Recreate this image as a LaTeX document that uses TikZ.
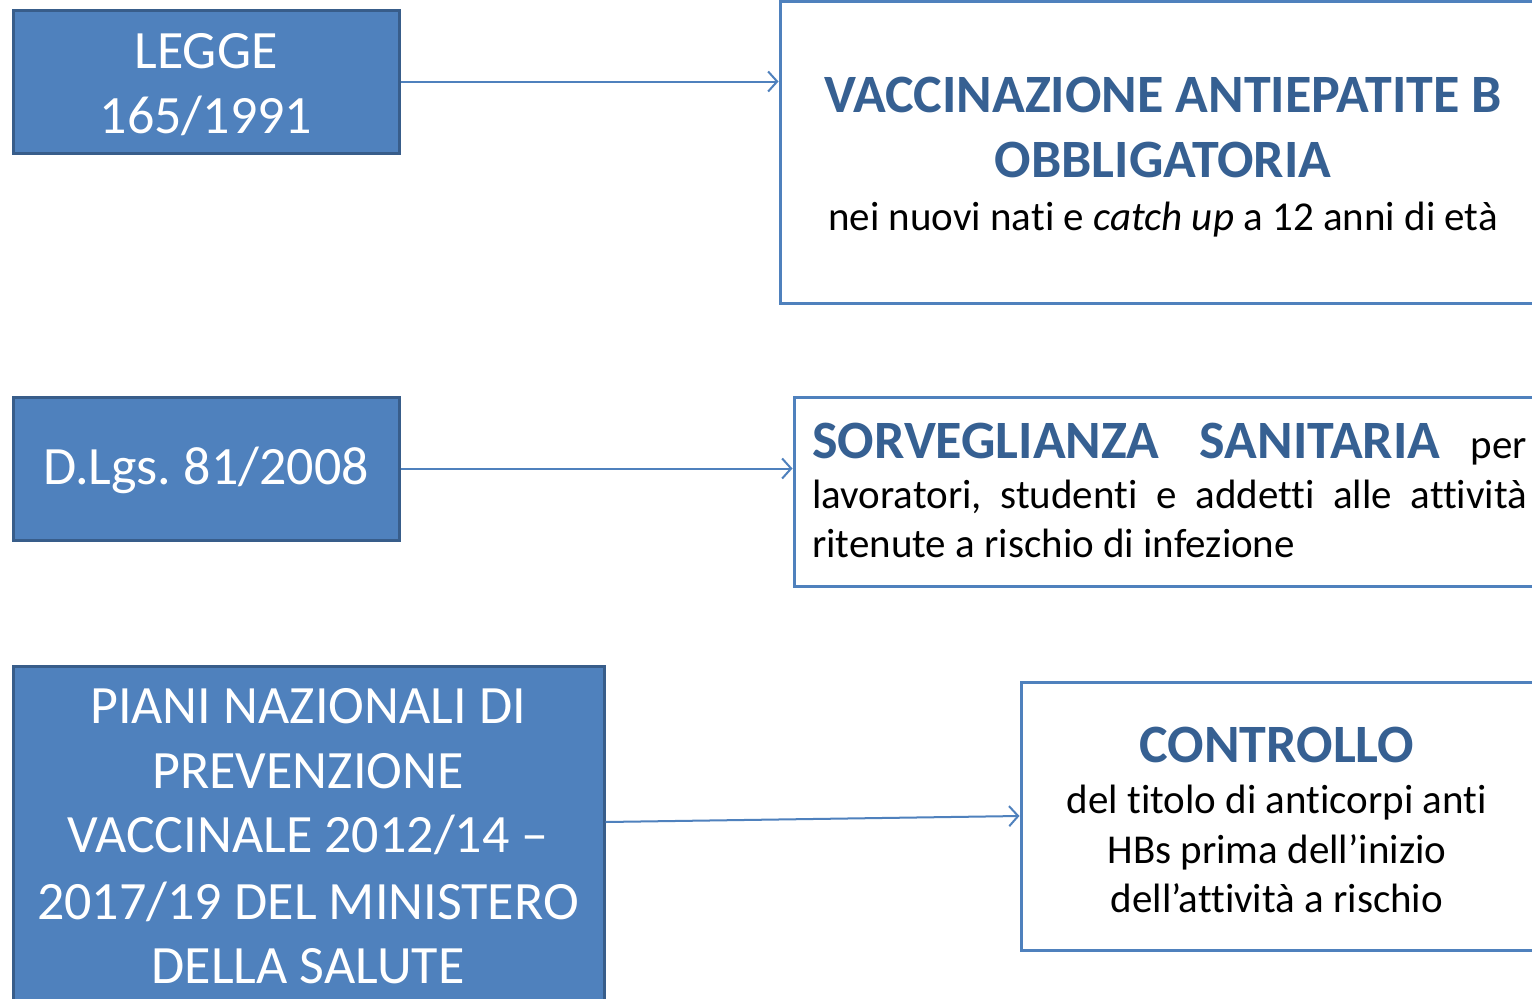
\documentclass[tikz,border=0pt]{standalone}
\usepackage{fontspec}
\setmainfont{Carlito}[Ligatures={NoCommon,TeX}]
\usetikzlibrary{arrows.meta}
\frenchspacing
\definecolor{boxblue}{HTML}{4F81BD}
\definecolor{boxedge}{HTML}{385D8A}
\definecolor{titleblue}{HTML}{366092}
\tikzset{
  lawbox/.style={draw=boxedge, line width=3pt, fill=boxblue, inner sep=0pt},
  outbox/.style={draw=boxblue, line width=3pt, fill=white, inner sep=0pt},
  lawtext/.style={text=white, font=\fontsize{54}{65}\selectfont, inner sep=0pt, anchor=base},
  titletext/.style={text=titleblue, font=\fontsize{54}{65}\selectfont\bfseries, inner sep=0pt, anchor=base},
  bodytext/.style={text=black, font=\fontsize{41}{49}\selectfont, inner sep=0pt, anchor=base},
  conn/.style={draw=boxblue, line width=2pt, -{Straight Barb[length=9pt,width=20pt,line width=2pt]}}
}
\begin{document}
\begin{tikzpicture}[x=1pt,y=-1pt]
\useasboundingbox (0,0) rectangle (1532,999);
\clip (0,0) rectangle (1532,999);
\fill[white] (0,0) rectangle (1532,999);
% left boxes
\node[lawbox, minimum width=386pt, minimum height=143pt] (legge) at (206,81.5) {};
\node[lawbox, minimum width=386pt, minimum height=143pt] (dlgs) at (206,468.5) {};
\node[lawbox, minimum width=591pt, minimum height=340pt] (piani) at (308.5,836) {};
% right boxes
\node[outbox, minimum width=766pt, minimum height=302pt] (vacc) at (1163,152) {};
\node[outbox, minimum width=751pt, minimum height=189pt] (sorv) at (1169.5,491.5) {};
\node[outbox, minimum width=513pt, minimum height=268pt] (contr) at (1277.5,816) {};
% left texts
\node[lawtext] (l1) at (206,68) {LEGGE};
\node[lawtext] (l2) at (206,133) {165/1991};
\node[lawtext] (d1) at (206,484) {D.Lgs. 81/2008};
\node[lawtext] (p1) at (308,723) {PIANI NAZIONALI DI};
\node[lawtext] (p2) at (308,788) {PREVENZIONE};
\node[lawtext] (p3) at (308,852) {VACCINALE 2012/14 --};
\node[lawtext] (p4) at (308,919) {2017/19 DEL MINISTERO};
\node[lawtext] (p5) at (308,983) {DELLA SALUTE};
% right texts
\node[titletext] (v1) at (1163,112) {VACCINAZIONE ANTIEPATITE B};
\node[titletext] (v2) at (1163,177) {OBBLIGATORIA};
\node[bodytext] (v3) at (1163,230) {nei nuovi nati e \textit{catch up} a 12 anni di età};
\node[bodytext, anchor=base west] (s1) at (812,458) {\makebox[715pt][s]{{\fontsize{54}{65}\selectfont\bfseries\color{titleblue}SORVEGLIANZA SANITARIA} per}};
\node[bodytext, anchor=base west] (s2) at (812,508) {\makebox[715pt][s]{lavoratori, studenti e addetti alle attività}};
\node[bodytext, anchor=base west] (s3) at (812,557) {ritenute a rischio di infezione};
\node[titletext] (c1) at (1277,762) {CONTROLLO};
\node[bodytext] (c2) at (1277,813) {del titolo di anticorpi anti};
\node[bodytext] (c3) at (1277,863) {HBs prima dell’inizio};
\node[bodytext] (c4) at (1277,912) {dell’attività a rischio};
% connectors
\draw[conn] (legge.east) -- (legge.east -| vacc.west);
\draw[conn] (dlgs.east) -- (dlgs.east -| sorv.west);
\draw[conn] ([yshift=14pt]piani.east) -- (contr.west);
\end{tikzpicture}
\end{document}
